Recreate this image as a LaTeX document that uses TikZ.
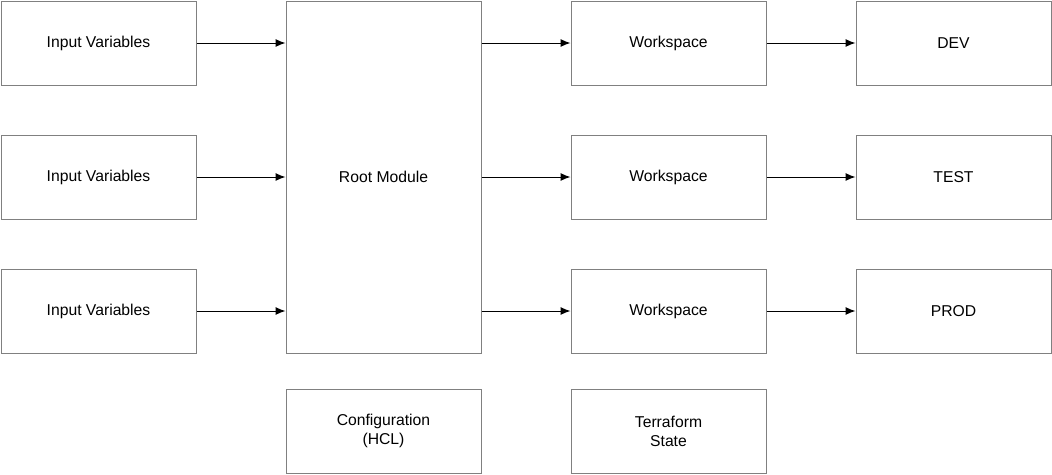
\documentclass[tikz,border=0pt]{standalone}
\usepackage{fontspec}
\setmainfont{Liberation Sans}
\usetikzlibrary{arrows.meta, calc}
\definecolor{boxgray}{HTML}{808080}

\begin{document}
\begin{tikzpicture}[x=1pt, y=-1pt,
        box/.style={draw=boxgray, line width=1pt, minimum width=195pt, minimum height=84pt, inner sep=0pt, align=center, font=\fontsize{15.7}{19}\selectfont},
        flow/.style={draw=black, line width=1pt, -{Latex[length=10pt, width=8pt]}}]
        \useasboundingbox (0,0) rectangle (1052,474);

        % inputs
        \node[box] (in1) at (98.5,43) {Input Variables};
        \node[box] (in2) at (98.5,177) {Input Variables};
        \node[box] (in3) at (98.5,311) {Input Variables};

        % root module and config
        \node[box, minimum height=352pt] (root) at (383.5,177) {Root Module};
        \node[box] (config) at (383.5,431) {Configuration\\(HCL)};

        % workspaces and state
        \node[box] (ws1) at (668.5,43) {Workspace};
        \node[box] (ws2) at (668.5,177) {Workspace};
        \node[box] (ws3) at (668.5,311) {Workspace};
        \node[box] (state) at (668.5,431) {Terraform\\State};

        % environments
        \node[box] (dev) at (953.5,43) {DEV};
        \node[box] (test) at (953.5,177) {TEST};
        \node[box] (prod) at (953.5,311) {PROD};

        \draw[flow] (in1) -- (in1 -| root.west);
        \draw[flow] (in2) -- (in2 -| root.west);
        \draw[flow] (in3) -- (in3 -| root.west);

        \draw[flow] (ws1 -| root.east) -- (ws1);
        \draw[flow] (ws2 -| root.east) -- (ws2);
        \draw[flow] (ws3 -| root.east) -- (ws3);

        \draw[flow] (ws1) -- (dev);
        \draw[flow] (ws2) -- (test);
        \draw[flow] (ws3) -- (prod);
    \end{tikzpicture}
\end{document}
